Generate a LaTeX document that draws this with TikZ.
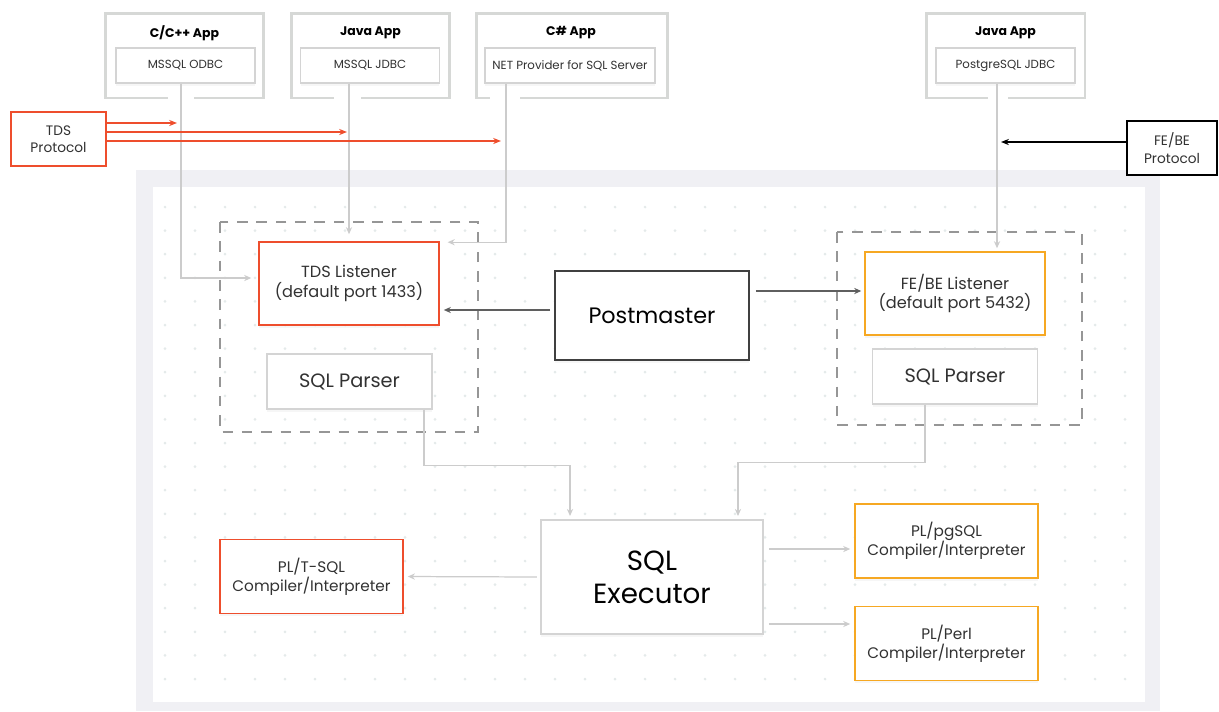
\documentclass[tikz,border=0pt]{standalone}
\usepackage{fontspec}
\setmainfont{Poppins}
\usetikzlibrary{arrows.meta,shadows}
\definecolor{tdsred}{RGB}{238,78,45}
\definecolor{pgorange}{RGB}{246,168,35}
\definecolor{framegray}{RGB}{240,240,244}
\definecolor{appgray}{RGB}{214,216,214}
\definecolor{boxgray}{RGB}{212,212,212}
\definecolor{connlight}{RGB}{204,204,204}
\definecolor{conndark}{RGB}{95,95,95}
\definecolor{dashgray}{RGB}{150,150,150}
\definecolor{dotgray}{RGB}{228,234,234}
\definecolor{txtgray}{RGB}{50,50,50}
\tikzstyle{glow}=[drop shadow={opacity=0.07,shadow xshift=0pt,shadow yshift=-1.5pt}]
\tikzstyle{app}=[draw=appgray, line width=1.7pt, fill=white, minimum width=3.18cm, minimum height=1.7cm, inner sep=0pt]
\tikzstyle{apptitle}=[font=\bfseries\fontsize{7.1}{8}\selectfont, text=black]
\tikzstyle{drv}=[draw=boxgray, line width=0.8pt, fill=white, glow, minimum width=2.78cm, minimum height=0.7cm, inner sep=0pt, text=txtgray, font=\fontsize{6.7}{8}\selectfont]
\tikzstyle{proto}=[draw, line width=0.9pt, fill=white, minimum height=1.08cm, inner sep=0pt, align=center, text=txtgray, font=\fontsize{7.8}{9.8}\selectfont]
\tikzstyle{listener}=[draw, line width=0.9pt, fill=white, glow, minimum width=3.6cm, minimum height=1.66cm, inner sep=0pt, align=center, text=txtgray, font=\fontsize{9.2}{11}\selectfont]
\tikzstyle{parser}=[draw=boxgray, line width=0.9pt, fill=white, glow, minimum width=3.3cm, minimum height=1.1cm, inner sep=0pt, text=txtgray, font=\fontsize{11}{13}\selectfont]
\tikzstyle{plbox}=[draw, line width=0.9pt, fill=white, glow, minimum width=3.66cm, minimum height=1.48cm, inner sep=0pt, align=center, text=txtgray, font=\fontsize{8.7}{10.8}\selectfont]
\tikzstyle{redarrow}=[-{Stealth[length=4.5pt,width=3.5pt]}, tdsred, line width=0.9pt]
\tikzstyle{greyconn}=[-{Stealth[length=4pt,width=3.5pt]}, connlight, line width=0.7pt]
\tikzstyle{darkconn}=[-{Stealth[length=4pt,width=3.5pt]}, conndark, line width=0.8pt]
\tikzstyle{group}=[dashgray, line width=0.8pt, dash pattern=on 6pt off 5pt]

\begin{document}
\begin{tikzpicture}[x=0.02cm,y=-0.02cm]
\useasboundingbox (0,0) rectangle (1219,711);

% engine background
\fill[framegray] (136,170) rectangle (1160,711);
\fill[white] (153,187) rectangle (1145,702);
\foreach \i in {0,...,32}
  \foreach \j in {0,...,20}
    \fill[dotgray] ({165+30*\i},{207+23.6*\j}) circle (0.85pt);

% client applications
\node[app] (capp) at (184.5,55.5) {};
\node[app] (javaapp) at (370.5,55.5) {};
\node[app, minimum width=3.84cm] (csapp) at (572,55.5) {};
\node[app] (pgapp) at (1005.5,55.5) {};
\draw[white, line width=2.6pt] (168,98) -- (194,98);
\draw[white, line width=2.6pt] (334,98) -- (361,98);
\draw[white, line width=2.6pt] (490,98) -- (520,98);
\draw[white, line width=2.6pt] (988,98) -- (1008,98);

\node[apptitle] (cappname) at (184.5,33) {C/C++ App};
\node[apptitle] (javaname) at (370.5,33) {Java App};
\node[apptitle] (csname) at (571,33) {C\# App};
\node[apptitle] (pgname) at (1005.5,33) {Java App};

\node[drv] (odbc) at (185.5,65.5) {MSSQL ODBC};
\node[drv] (jdbc) at (370,65.5) {MSSQL JDBC};
\node[drv, minimum width=3.4cm] (netprov) at (570,65.5) {NET Provider for SQL Server};
\node[drv] (pgjdbc) at (1005.5,65.5) {PostgreSQL JDBC};

% protocols
\node[proto, draw=tdsred, minimum width=1.9cm] (tdsproto) at (58.5,139) {TDS\\Protocol};
\node[proto, draw=black, minimum width=1.8cm] (febeproto) at (1172,148) {FE/BE\\Protocol};
\coordinate (ttap1) at (177,123);
\coordinate (ttap2) at (347,132);
\coordinate (ttap3) at (501,141);
\coordinate (pgtap) at (1001,142);

% listeners and parsers
\draw[group] (220,222) rectangle (478,432);
\draw[group] (837,232) rectangle (1082,425);
\node[listener, draw=tdsred] (tdslist) at (349,283.5) {TDS Listener\\(default port 1433)};
\node[parser] (parser1) at (349.5,381.5) {SQL Parser};
\node[listener, draw=pgorange] (febelist) at (955,293.5) {FE/BE Listener\\(default port 5432)};
\node[parser] (parser2) at (955,376.5) {SQL Parser};

\node[draw=black!75, line width=0.9pt, fill=white, glow, minimum width=3.88cm, minimum height=1.78cm, inner sep=0pt, font=\fontsize{12.7}{15}\selectfont] (pmaster) at (652,315.5) {Postmaster};
\node[draw=boxgray, line width=1.2pt, fill=white, glow, minimum width=4.44cm, minimum height=2.28cm, inner sep=0pt, align=center, font=\fontsize{15.8}{19}\selectfont] (exec) at (652,577) {SQL\\Executor};

% procedural languages
\node[plbox, draw=tdsred] (tsql) at (311.5,576.5) {PL/T-SQL\\Compiler/Interpreter};
\node[plbox, draw=pgorange] (pgsql) at (946.5,541) {PL/pgSQL\\Compiler/Interpreter};
\node[plbox, draw=pgorange] (plperl) at (946.5,643.5) {PL/Perl\\Compiler/Interpreter};

% connections
\draw[greyconn, shorten >=4pt] ([xshift=-0.09cm]odbc.south) |- ([yshift=0.11cm]tdslist.west);
\draw[greyconn, shorten >=4pt] (jdbc.south -| tdslist.north) -- (tdslist.north);
\draw[greyconn, shorten >=4.5pt] ([xshift=-1.28cm]netprov.south) |- ([yshift=-0.02cm]tdslist.north east);
\draw[greyconn, shorten >=1.7pt] ([xshift=-0.17cm]pgjdbc.south) -- ([xshift=-0.17cm]pgjdbc.south |- febelist.north);

\draw[redarrow] ([yshift=0.32cm]tdsproto.east) -- (ttap1);
\draw[redarrow] ([yshift=0.14cm]tdsproto.east) -- (ttap2);
\draw[redarrow] ([yshift=-0.04cm]tdsproto.east) -- (ttap3);
\draw[-{Stealth[length=4.5pt,width=3.5pt]}, black, line width=0.9pt] ([yshift=0.12cm]febeproto.west) -- (pgtap);

\draw[darkconn, shorten <=2.3pt, shorten >=2.3pt] ([yshift=0.11cm]pmaster.west) -- ([yshift=0.11cm]pmaster.west -| tdslist.east);
\draw[darkconn, shorten <=3.4pt, shorten >=1.7pt] ([yshift=0.49cm]pmaster.east) -- ([yshift=0.49cm]pmaster.east -| febelist.west);

\draw[greyconn, shorten >=1.7pt] ([xshift=1.49cm]parser1.south) -- ++(0,-1.12cm) -| ([xshift=-1.64cm]exec.north);
\draw[greyconn, shorten >=1.7pt] ([xshift=-0.6cm]parser2.south) -- ++(0,-1.16cm) -| ([xshift=1.72cm]exec.north);

\draw[greyconn, shorten <=1.7pt, shorten >=2.3pt] (exec.west) -- (tsql.east);
\draw[greyconn, shorten <=2.8pt, shorten >=2.3pt] ([yshift=0.56cm]exec.east) -- ([yshift=0.56cm]exec.east -| pgsql.west);
\draw[greyconn, shorten <=2.8pt, shorten >=2.3pt] ([yshift=-0.94cm]exec.east) -- ([yshift=-0.94cm]exec.east -| plperl.west);
\end{tikzpicture}
\end{document}
